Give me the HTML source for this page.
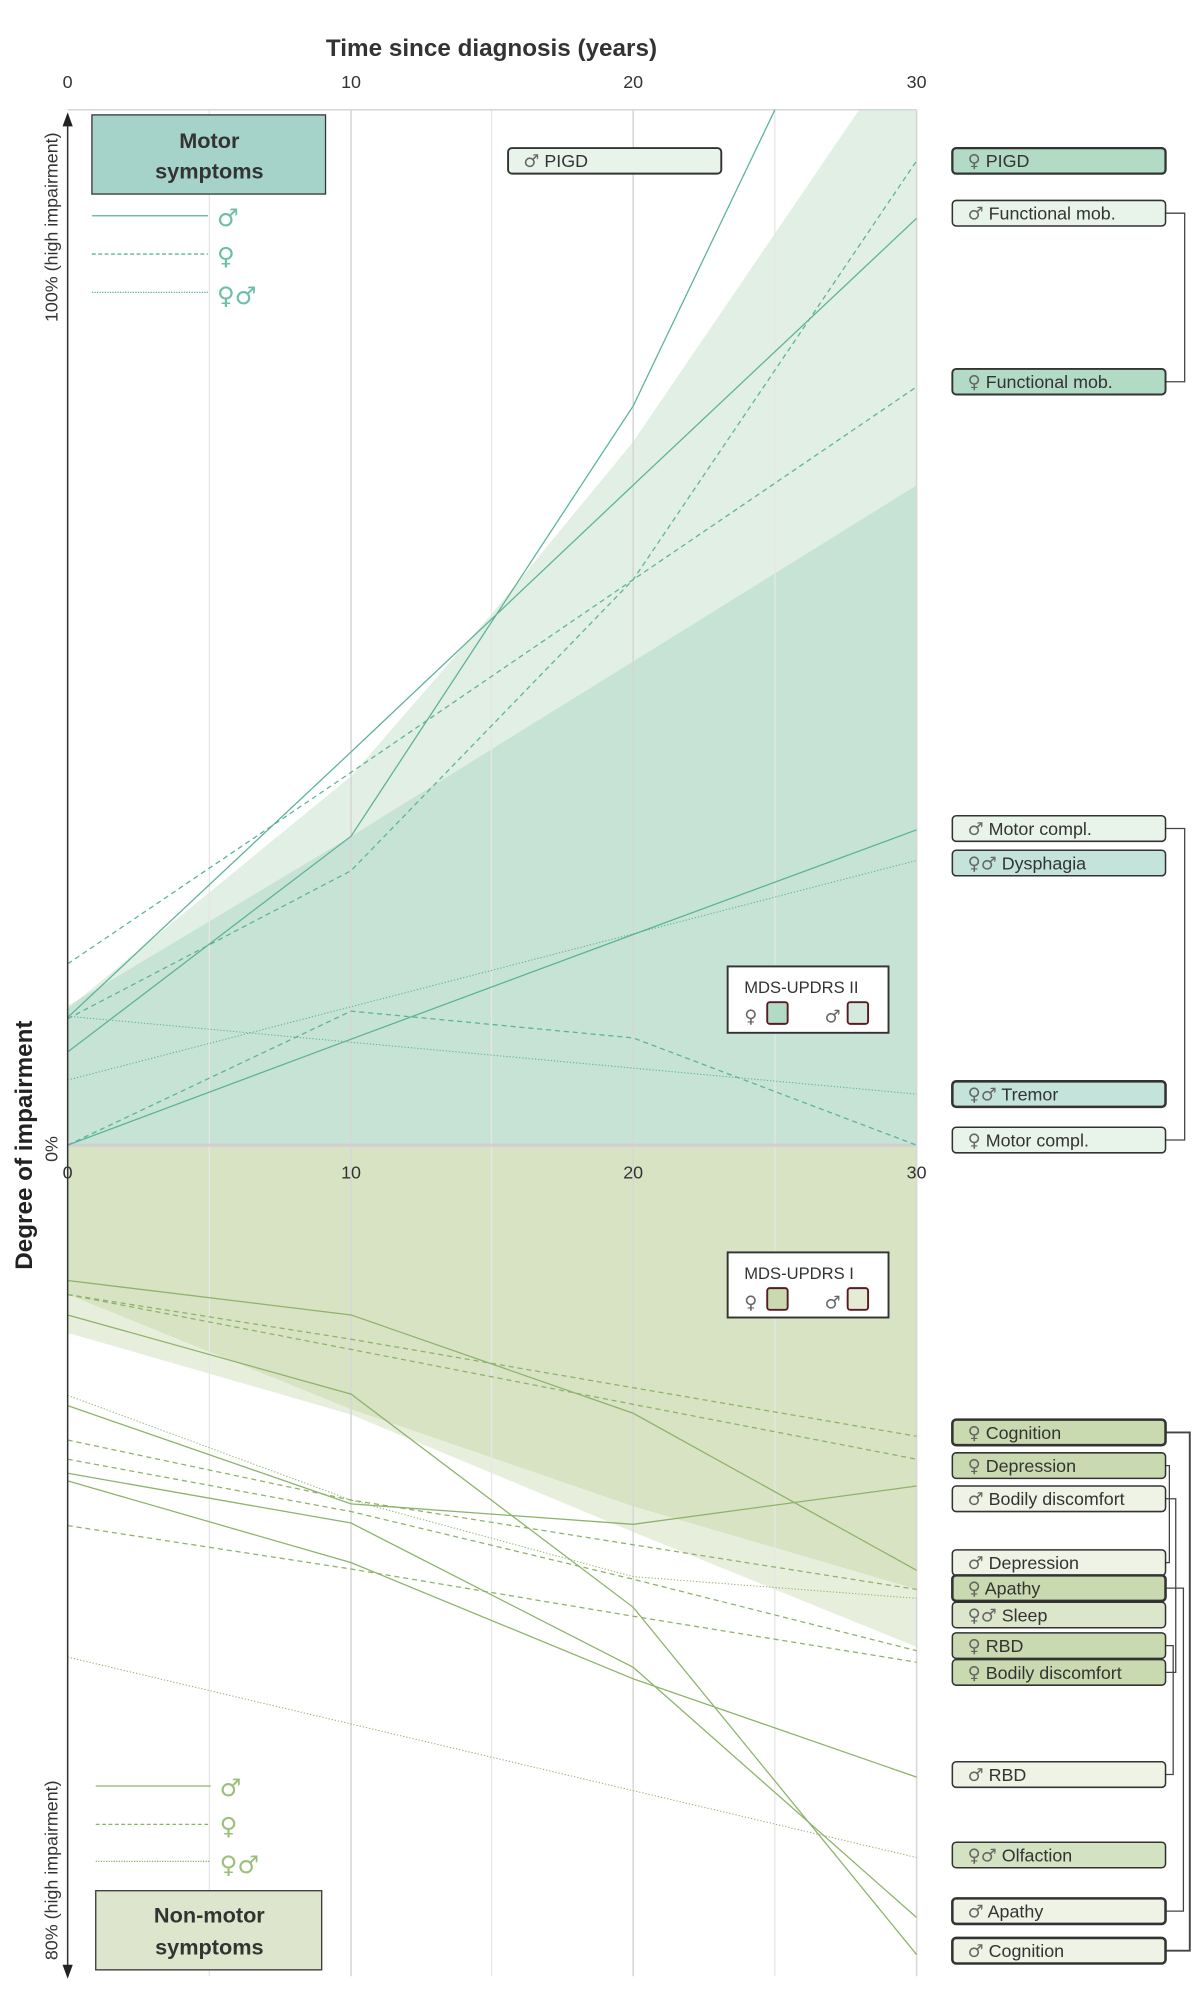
<!DOCTYPE html>
<html><head><meta charset="utf-8"><style>
html,body{margin:0;padding:0;background:#fff;}
svg{display:block;}
text{font-family:"Liberation Sans","DejaVu Sans",sans-serif;}
.g{font-family:"DejaVu Sans",sans-serif;}
</style></head><body>
<svg width="1200" height="2000" viewBox="0 0 940 1566.6" preserveAspectRatio="none" xmlns="http://www.w3.org/2000/svg">
<polygon points="53,897 53,788 275,655 496,518 718,380 718,897" fill="#c7e3d5"/>
<polygon points="53,790 275,608 385,481 496,346 673,86 718,86 718,380 496,518 275,655 53,788" fill="#e1efe4"/>
<polygon points="53,897 718,897 718,1245 496,1180 275,1104 53,1014" fill="#d8e3c4"/>
<polygon points="53,1014 275,1104 496,1180 718,1245 718,1290 496,1200 275,1108 53,1044" fill="#e7efdc"/>
<g stroke="#e6e6e6" stroke-width="1">
<line x1="164" y1="86" x2="164" y2="1548"/><line x1="385" y1="86" x2="385" y2="1548"/><line x1="607" y1="86" x2="607" y2="1548"/>
</g>
<g stroke="#d6d6d6" stroke-width="1.2">
<line x1="275" y1="86" x2="275" y2="1548"/><line x1="496" y1="86" x2="496" y2="1548"/><line x1="718" y1="86" x2="718" y2="1548"/>
<line x1="53" y1="86" x2="718" y2="86"/>
</g>
<line x1="53" y1="897" x2="718" y2="897" stroke="#d0d0d0" stroke-width="2.5"/>
<g fill="none" stroke="#5bb39a" stroke-width="1">
<polyline points="53,824 275,655 496,318 607,86"/>
<polyline points="53,797 275,589 496,380 718,171"/>
<polyline points="53,897 275,814 496,732 718,650"/>
<g stroke-dasharray="4 3">
<polyline points="53,755 275,605 496,454 718,303"/>
<polyline points="53,798 275,682 496,454 718,126"/>
<polyline points="53,897 275,792 496,813 718,897"/>
</g>
<g stroke-dasharray="1 1.5" stroke-width="0.8">
<polyline points="53,846 718,674"/>
<polyline points="53,796 718,857"/>
</g>
</g>
<g fill="none" stroke="#8db36a" stroke-width="1">
<polyline points="53,1003 275,1030 496,1107 718,1230"/>
<polyline points="53,1030 275,1092 496,1259 718,1531"/>
<polyline points="53,1101 275,1178 496,1194 718,1164"/>
<polyline points="53,1154 275,1193 496,1306 718,1502"/>
<polyline points="53,1160 275,1224 496,1315 718,1392"/>
<g stroke-dasharray="4 3">
<polyline points="53,1014 275,1049 496,1087 718,1125"/>
<polyline points="53,1014 275,1057 496,1100 718,1143"/>
<polyline points="53,1128 275,1175 496,1210 718,1245"/>
<polyline points="53,1143 275,1184 496,1237 718,1293"/>
<polyline points="53,1195 275,1229 496,1266 718,1302"/>
</g>
<g stroke-dasharray="1 1.5" stroke-width="0.8">
<polyline points="53,1093 275,1175 496,1235 718,1252"/>
<polyline points="53,1298 718,1455"/>
</g>
</g>
<line x1="53" y1="96" x2="53" y2="1540" stroke="#333" stroke-width="1.2"/>
<polygon points="53,88 49,99 57,99" fill="#222"/>
<polygon points="53,1550 49,1539 57,1539" fill="#222"/>
<text x="385" y="44" font-size="19" font-weight="bold" text-anchor="middle" fill="#333">Time since diagnosis (years)</text>
<g font-size="14" fill="#333" text-anchor="middle">
<text x="53" y="69">0</text><text x="275" y="69">10</text><text x="496" y="69">20</text><text x="718" y="69">30</text>
<text x="53" y="923">0</text><text x="275" y="923">10</text><text x="496" y="923">20</text><text x="718" y="923">30</text>
</g>
<text transform="translate(25,897) rotate(-90)" font-size="19" font-weight="bold" text-anchor="middle" fill="#222">Degree of impairment</text>
<text transform="translate(45,178) rotate(-90)" font-size="14" text-anchor="middle" fill="#333">100% (high impairment)</text>
<text transform="translate(45,900) rotate(-90)" font-size="14" text-anchor="middle" fill="#333">0%</text>
<text transform="translate(45,1465) rotate(-90)" font-size="14" text-anchor="middle" fill="#333">80% (high impairment)</text>
<rect x="72" y="90" width="183" height="62" fill="#a6d3c9" stroke="#333" stroke-width="1"/>
<text x="164" y="116" font-size="17" font-weight="bold" text-anchor="middle" fill="#333">Motor</text>
<text x="164" y="140" font-size="17" font-weight="bold" text-anchor="middle" fill="#333">symptoms</text>
<g stroke="#5bb39a" stroke-width="1">
<line x1="72" y1="169" x2="163" y2="169"/>
<line x1="72" y1="199" x2="163" y2="199" stroke-dasharray="3 2"/>
<line x1="72" y1="229" x2="163" y2="229" stroke-dasharray="1 1"/>
</g>
<g font-size="19" fill="#6cbfa6">
<text x="170" y="177" class="g">♂</text><text x="170" y="207" class="g">♀</text><text x="170" y="238" class="g">♀♂</text>
</g>
<rect x="75" y="1481" width="177" height="62" fill="#dde6cc" stroke="#333" stroke-width="1"/>
<text x="164" y="1506" font-size="17" font-weight="bold" text-anchor="middle" fill="#333">Non-motor</text>
<text x="164" y="1531" font-size="17" font-weight="bold" text-anchor="middle" fill="#333">symptoms</text>
<g stroke="#8db36a" stroke-width="1">
<line x1="75" y1="1399" x2="165" y2="1399"/>
<line x1="75" y1="1429" x2="165" y2="1429" stroke-dasharray="3 2"/>
<line x1="75" y1="1458" x2="165" y2="1458" stroke-dasharray="1 1"/>
</g>
<g font-size="19" fill="#9cc07a">
<text x="172" y="1407" class="g">♂</text><text x="172" y="1437" class="g">♀</text><text x="172" y="1467" class="g">♀♂</text>
</g>
<rect x="570" y="757" width="126" height="52" fill="#fff" stroke="#333" stroke-width="1.5"/>
<text x="583" y="778" font-size="13" fill="#333">MDS-UPDRS II</text>
<text x="583" y="801" font-size="14" fill="#666" class="g">♀</text>
<rect x="601" y="785" width="16" height="17" rx="2" fill="#b2dbc6" stroke="#5a1a22" stroke-width="1.5"/>
<text x="646" y="801" font-size="14" fill="#666" class="g">♂</text>
<rect x="664" y="785" width="16" height="17" rx="2" fill="#d5eade" stroke="#5a1a22" stroke-width="1.5"/>
<rect x="570" y="981" width="126" height="51" fill="#fff" stroke="#333" stroke-width="1.5"/>
<text x="583" y="1002" font-size="13" fill="#333">MDS-UPDRS I</text>
<text x="583" y="1025" font-size="14" fill="#666" class="g">♀</text>
<rect x="601" y="1009" width="16" height="17" rx="2" fill="#c9dab0" stroke="#5a1a22" stroke-width="1.5"/>
<text x="646" y="1025" font-size="14" fill="#666" class="g">♂</text>
<rect x="664" y="1009" width="16" height="17" rx="2" fill="#e4ecd6" stroke="#5a1a22" stroke-width="1.5"/>
<rect x="398" y="116" width="167" height="20" rx="3" fill="#e8f3ea" stroke="#333" stroke-width="1.5"/>
<text x="410" y="131" font-size="14" fill="#333"><tspan class="g" fill="#666">♂</tspan> PIGD</text>
<g fill="none" stroke="#444" stroke-width="1">
<polyline points="913,167 928,167 928,299 913,299"/>
<polyline points="913,649 928,649 928,893 913,893"/>
<polyline points="913,1122 932,1122 932,1528 913,1528" stroke-width="1.5"/>
<polyline points="913,1148 916,1148 916,1224 913,1224"/>
<polyline points="913,1174 921,1174 921,1310 913,1310"/>
<polyline points="913,1244 927,1244 927,1497 913,1497"/>
<polyline points="913,1289 919,1289 919,1390 913,1390"/>
</g>
<g font-size="14" fill="#333">
<rect x="746" y="116" width="167" height="20" rx="3" fill="#b2dbc6" stroke="#333" stroke-width="1.8"/><text x="758" y="131"><tspan class="g" fill="#666">♀</tspan> PIGD</text>
<rect x="746" y="157" width="167" height="20" rx="3" fill="#e8f3ea" stroke="#333" stroke-width="1.2"/><text x="758" y="172"><tspan class="g" fill="#666">♂</tspan> Functional mob.</text>
<rect x="746" y="289" width="167" height="20" rx="3" fill="#b2dbc6" stroke="#333" stroke-width="1.5"/><text x="758" y="304"><tspan class="g" fill="#666">♀</tspan> Functional mob.</text>
<rect x="746" y="639" width="167" height="20" rx="3" fill="#e8f3ea" stroke="#333" stroke-width="1.2"/><text x="758" y="654"><tspan class="g" fill="#666">♂</tspan> Motor compl.</text>
<rect x="746" y="666" width="167" height="20" rx="3" fill="#c3e3db" stroke="#333" stroke-width="1.2"/><text x="758" y="681"><tspan class="g" fill="#666">♀♂</tspan> Dysphagia</text>
<rect x="746" y="847" width="167" height="20" rx="3" fill="#c3e3db" stroke="#333" stroke-width="2"/><text x="758" y="862"><tspan class="g" fill="#666">♀♂</tspan> Tremor</text>
<rect x="746" y="883" width="167" height="20" rx="3" fill="#e8f3ea" stroke="#333" stroke-width="1.2"/><text x="758" y="898"><tspan class="g" fill="#666">♀</tspan> Motor compl.</text>
<rect x="746" y="1112" width="167" height="20" rx="3" fill="#c9dab0" stroke="#333" stroke-width="2"/><text x="758" y="1127"><tspan class="g" fill="#666">♀</tspan> Cognition</text>
<rect x="746" y="1138" width="167" height="20" rx="3" fill="#c9dab0" stroke="#333" stroke-width="1.2"/><text x="758" y="1153"><tspan class="g" fill="#666">♀</tspan> Depression</text>
<rect x="746" y="1164" width="167" height="20" rx="3" fill="#eef3e5" stroke="#333" stroke-width="1.2"/><text x="758" y="1179"><tspan class="g" fill="#666">♂</tspan> Bodily discomfort</text>
<rect x="746" y="1214" width="167" height="20" rx="3" fill="#eef3e5" stroke="#333" stroke-width="1.2"/><text x="758" y="1229"><tspan class="g" fill="#666">♂</tspan> Depression</text>
<rect x="746" y="1234" width="167" height="20" rx="3" fill="#c9dab0" stroke="#333" stroke-width="2"/><text x="758" y="1249"><tspan class="g" fill="#666">♀</tspan> Apathy</text>
<rect x="746" y="1255" width="167" height="20" rx="3" fill="#dce6cb" stroke="#333" stroke-width="1.2"/><text x="758" y="1270"><tspan class="g" fill="#666">♀♂</tspan> Sleep</text>
<rect x="746" y="1279" width="167" height="20" rx="3" fill="#c9dab0" stroke="#333" stroke-width="1.2"/><text x="758" y="1294"><tspan class="g" fill="#666">♀</tspan> RBD</text>
<rect x="746" y="1300" width="167" height="20" rx="3" fill="#c9dab0" stroke="#333" stroke-width="1.2"/><text x="758" y="1315"><tspan class="g" fill="#666">♀</tspan> Bodily discomfort</text>
<rect x="746" y="1380" width="167" height="20" rx="3" fill="#eef3e5" stroke="#333" stroke-width="1.2"/><text x="758" y="1395"><tspan class="g" fill="#666">♂</tspan> RBD</text>
<rect x="746" y="1443" width="167" height="20" rx="3" fill="#d3e2c0" stroke="#333" stroke-width="1.2"/><text x="758" y="1458"><tspan class="g" fill="#666">♀♂</tspan> Olfaction</text>
<rect x="746" y="1487" width="167" height="20" rx="3" fill="#eef3e5" stroke="#333" stroke-width="2"/><text x="758" y="1502"><tspan class="g" fill="#666">♂</tspan> Apathy</text>
<rect x="746" y="1518" width="167" height="20" rx="3" fill="#eef3e5" stroke="#333" stroke-width="2"/><text x="758" y="1533"><tspan class="g" fill="#666">♂</tspan> Cognition</text>
</g>
</svg>
</body></html>
